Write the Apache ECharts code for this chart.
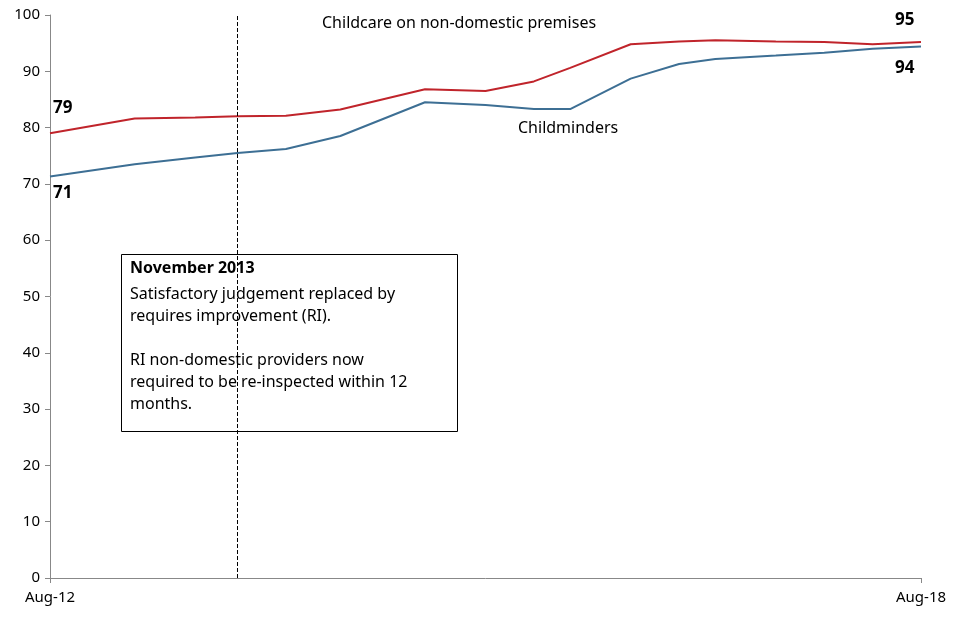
<!DOCTYPE html>
<html><head><meta charset="utf-8">
<script src="https://cdn.jsdelivr.net/npm/echarts@6/dist/echarts.min.js"></script>
<style>html,body{margin:0;background:#fff}#c{width:960px;height:640px}</style></head>
<body><div id="c"></div>
<script>
const months = [0,7,12,15.5,19.5,24,31,36,40,43,48,52,55,60,64,68,72];
const nonDomestic = [79,81.6,81.8,82,82.1,83.2,86.8,86.5,88.2,90.6,94.8,95.3,95.5,95.3,95.2,94.8,95.2];
const childminders = [71.3,73.5,74.7,75.5,76.2,78.5,84.5,84,83.3,83.3,88.7,91.3,92.2,92.8,93.3,94,94.4];
const xTickLabels = {0:'Aug-12',72:'Aug-18'};
const yTicks = [0,10,20,30,40,50,60,70,80,90,100];
const F = 'Noto Sans';
const chart = echarts.init(document.getElementById('c'));
function pts(v){return months.map((m,i)=>[m,v[i]]);}
chart.setOption({
  animation:false,
  textStyle:{fontFamily:F},
  grid:{left:50,right:39,top:15,bottom:62},
  xAxis:{type:'value',min:0,max:72,interval:72,
    axisLine:{lineStyle:{color:'#888'}},axisTick:{show:true,length:5,lineStyle:{color:'#888'}},
    splitLine:{show:false},
    axisLabel:{color:'#000',fontSize:15,margin:12,formatter:v=>xTickLabels[v]||''}},
  yAxis:{type:'value',min:0,max:100,interval:10,
    axisLine:{show:true,lineStyle:{color:'#888'}},axisTick:{show:true,length:5,lineStyle:{color:'#888'}},
    splitLine:{show:false},axisLabel:{color:'#000',fontSize:15,margin:10}},
  series:[
    {type:'line',data:pts(nonDomestic),symbol:'none',lineStyle:{color:'#c0242b',width:2},
     markLine:{silent:true,symbol:'none',label:{show:false},lineStyle:{color:'#000',type:'dashed',width:1},data:[{xAxis:15.5}]}},
    {type:'line',data:pts(childminders),symbol:'none',lineStyle:{color:'#3d6f94',width:2}}
  ],
  graphic:[
    {type:'text',left:322,top:15,style:{text:'Childcare on non-domestic premises',font:'16px Noto Sans',fill:'#000'}},
    {type:'text',left:518,top:120,style:{text:'Childminders',font:'16px Noto Sans',fill:'#000'}},
    {type:'text',left:53,top:100,style:{text:'79',font:'bold 17px Noto Sans',fill:'#000'}},
    {type:'text',left:53,top:185,style:{text:'71',font:'bold 17px Noto Sans',fill:'#000'}},
    {type:'text',left:895,top:12,style:{text:'95',font:'bold 17px Noto Sans',fill:'#000'}},
    {type:'text',left:895,top:60,style:{text:'94',font:'bold 17px Noto Sans',fill:'#000'}},
    {type:'rect',left:121,top:254,shape:{width:336,height:177},style:{fill:'#fff',stroke:'#000',lineWidth:1}},
    {type:'text',left:130,top:260,style:{text:'November 2013',font:'bold 16px Noto Sans',fill:'#000'}},
    {type:'text',left:130,top:283,style:{text:'Satisfactory judgement replaced by\nrequires improvement (RI).\n\nRI non-domestic providers now\nrequired to be re-inspected within 12\nmonths.',font:'16px Noto Sans',lineHeight:22,fill:'#000'}}
  ]
});
</script></body></html>
